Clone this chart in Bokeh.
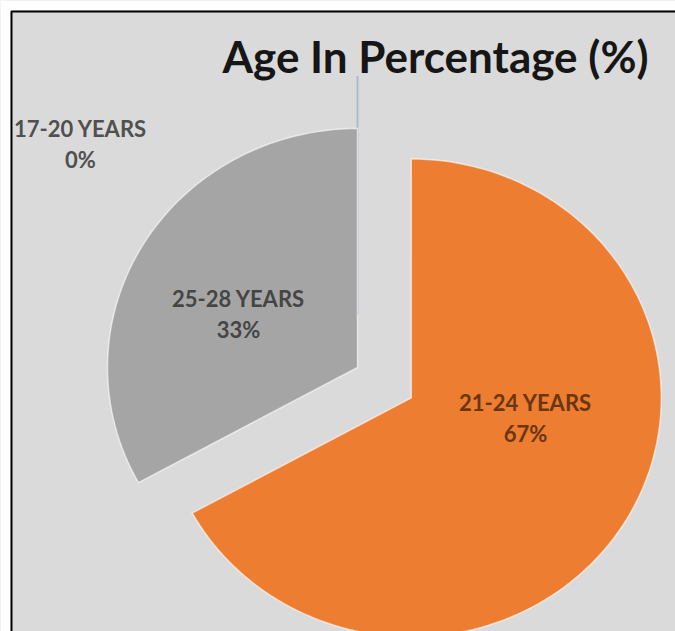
import math
from bokeh.plotting import figure
from bokeh.models import Range1d
from bokeh.core.properties import value
from bokeh.embed import file_html
from bokeh.resources import INLINE

# ---- data ----
categories = ["17-20 YEARS", "21-24 YEARS", "25-28 YEARS"]
percentages = [0, 67, 33]
colors = ["#4472c4", "#ed7d31", "#a5a5a5"]
title_text = "Age In Percentage (%)"

# ---- styling / layout (pixel-like data space) ----
W, H = 675, 631
RX, RY = 250, 239
CX, CY = 357, H - 367
explode = [0.22, 0.25, 0.0]
label_px = [(80, 128), (525, 402), (238, 298)]
label_colors = ["#505050", "#6a3610", "#454545"]

p = figure(width=W, height=H, output_backend="svg", toolbar_location=None,
           x_range=Range1d(0, W), y_range=Range1d(0, H),
           x_axis_location=None, y_axis_location=None, min_border=0)
p.grid.visible = False
p.outline_line_color = None
p.background_fill_color = "#dadada"
p.border_fill_color = "#dadada"

# hide page scrollbars (page-level stylesheet)
try:
    from bokeh.models import GlobalInlineStyleSheet
    p.stylesheets = [GlobalInlineStyleSheet(css="html, body { overflow: hidden !important; margin: 0; }")]
except Exception:
    pass

# white strips outside the chart box
p.quad(left=[0, 0], right=[W, 10], bottom=[H - 10, 0], top=[H, H],
       fill_color="white", line_color=None)

total = sum(percentages)
cum = 0.0
for i, (cat, v) in enumerate(zip(categories, percentages)):
    f0 = cum / total
    f1 = (cum + v) / total
    cum += v
    a_end = math.pi / 2 - 2 * math.pi * f0
    a_start = math.pi / 2 - 2 * math.pi * f1
    mid = (a_start + a_end) / 2
    cx = CX + explode[i] * RX * math.cos(mid)
    cy = CY + explode[i] * RY * math.sin(mid)
    if v > 0:
        n = max(8, int(200 * (f1 - f0)))
        xs = [cx] + [cx + RX * math.cos(a_start + (a_end - a_start) * k / n) for k in range(n + 1)]
        ys = [cy] + [cy + RY * math.sin(a_start + (a_end - a_start) * k / n) for k in range(n + 1)]
        p.patch(x=xs, y=ys, fill_color=colors[i], line_color="white",
                line_width=1.5, line_alpha=0.6, line_join="miter")
    else:
        p.line(x=[cx, cx + RX * math.cos(a_end)], y=[cy, cy + RY * math.sin(a_end)],
               line_color="#a9bccf", line_width=2)

# black top/left border of the chart box as a single polyline
p.line(x=[11, 11, W + 2], y=[-2, H - 11, H - 11], line_color="black", line_width=2)

# data labels
for i, (cat, v) in enumerate(zip(categories, percentages)):
    lx, ly = label_px[i]
    p.text(x=[lx, lx], y=[H - ly, H - ly - 31], text=[cat, f"{v}%"],
           text_font=value("Lato"), text_font_style="bold", text_font_size="22px",
           text_color=label_colors[i], text_align="center", text_baseline="middle")

# title
p.text(x=[435], y=[H - 55], text=[title_text], text_font=value("Lato"),
       text_font_style="bold", text_font_size="44px", text_color="#161616",
       text_align="center", text_baseline="alphabetic")

open("out.html", "w").write(file_html(p, INLINE))
